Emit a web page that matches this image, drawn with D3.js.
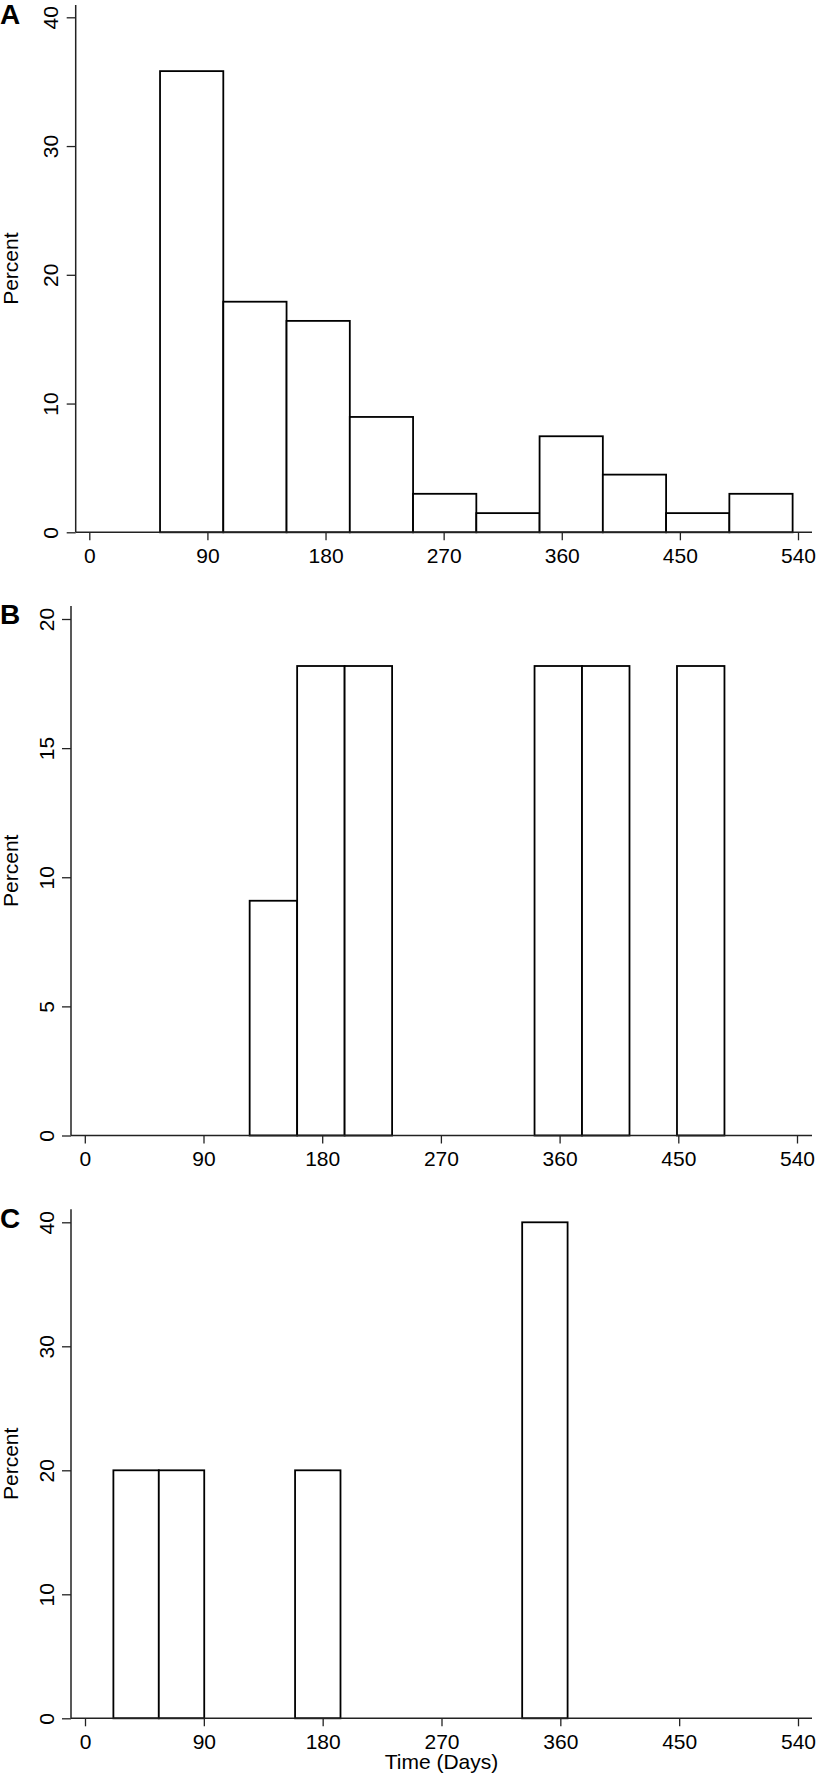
<!DOCTYPE html>
<html>
<head>
<meta charset="utf-8">
<script src="https://cdn.jsdelivr.net/npm/d3@7"></script>
<style>
  body { margin: 0; background: #fff; }
  svg { display: block; font-family: "Liberation Sans", Arial, Helvetica, sans-serif; }
</style>
</head>
<body>
<svg id="chart" width="816" height="1776"></svg>
<script>
// Data (percent per bin, days on x)
const xTicks = [0, 90, 180, 270, 360, 450, 540];
const panelLabels = ['A', 'B', 'C'];
const binStarts = [53.9, 125, 21.5];
const binWidths = [48.2, 36, 34.4];
const percentA = [35.82, 17.91, 16.42, 8.96, 2.99, 1.49, 7.46, 4.48, 1.49, 2.99];
const percentB = [9.09, 18.18, 18.18, 0, 0, 0, 18.18, 18.18, 0, 18.18];
const percentC = [20, 20, 0, 0, 20, 0, 0, 0, 0, 40];
const yTicksA = [0, 10, 20, 30, 40];
const yTicksB = [0, 5, 10, 15, 20];
const yTicksC = [0, 10, 20, 30, 40];
const yTitle = 'Percent';
const xTitle = 'Time (Days)';

// Layout for each panel (pixels)
const layout = [
  { axisX: 75.7, xRange: [89.3, 798], yMax: 40, yRange: [532.3, 17.3], axisTop: 5, letterY: 24 },
  { axisX: 71, xRange: [84.8, 797], yMax: 20, yRange: [1135.5, 619], axisTop: 606, letterY: 624 },
  { axisX: 71, xRange: [85, 798], yMax: 40, yRange: [1718.3, 1222.3], axisTop: 1209.3, letterY: 1228 }
];
const axisRight = 812;
const fontSize = 21;

const svg = d3.select('#chart');
const series = [percentA, percentB, percentC];
const yTickSets = [yTicksA, yTicksB, yTicksC];

series.forEach((values, i) => {
  const L = layout[i];
  const x = d3.scaleLinear().domain([0, 540]).range(L.xRange);
  const y = d3.scaleLinear().domain([0, L.yMax]).range(L.yRange);
  const g = svg.append('g').attr('class', 'panel');

  const bins = values.map((v, k) => ({
    x0: binStarts[i] + k * binWidths[i],
    x1: binStarts[i] + (k + 1) * binWidths[i],
    v
  })).filter(d => d.v > 0);

  // bars
  g.selectAll('rect.bar').data(bins).join('rect')
    .attr('class', 'bar')
    .attr('x', d => x(d.x0))
    .attr('width', d => x(d.x1) - x(d.x0))
    .attr('y', d => y(d.v))
    .attr('height', d => y(0) - y(d.v))
    .attr('fill', '#fff')
    .attr('stroke', '#000')
    .attr('stroke-width', 1.8);

  // x axis
  const xAxis = g.append('g')
    .attr('transform', `translate(0,${y(0)})`)
    .call(d3.axisBottom(x).tickValues(xTicks).tickSize(8).tickFormat(d3.format('d')));
  xAxis.attr('font-family', null).attr('font-size', fontSize);
  xAxis.select('.domain').remove();
  xAxis.selectAll('.tick line').attr('stroke', '#222').attr('stroke-width', 1.3);
  xAxis.selectAll('.tick text').attr('dy', null).attr('y', 30.5);
  g.append('line')
    .attr('x1', L.axisX).attr('x2', axisRight)
    .attr('y1', y(0)).attr('y2', y(0))
    .attr('stroke', '#222').attr('stroke-width', 1.5);

  // y axis
  const yAxis = g.append('g')
    .attr('transform', `translate(${L.axisX},0)`)
    .call(d3.axisLeft(y).tickValues(yTickSets[i]).tickSize(9).tickFormat(d3.format('d')));
  yAxis.attr('font-family', null).attr('font-size', fontSize);
  yAxis.select('.domain').remove();
  yAxis.selectAll('.tick line').attr('stroke', '#222').attr('stroke-width', 1.3);
  yAxis.selectAll('.tick text')
    .attr('x', null).attr('dy', null)
    .attr('text-anchor', 'middle')
    .attr('transform', 'translate(-17.5,0) rotate(-90)');
  g.append('line')
    .attr('x1', L.axisX).attr('x2', L.axisX)
    .attr('y1', L.axisTop).attr('y2', y(0))
    .attr('stroke', '#222').attr('stroke-width', 1.5);

  // y title
  g.append('text')
    .attr('transform', `translate(18,${(L.axisTop + y(0)) / 2}) rotate(-90)`)
    .attr('text-anchor', 'middle')
    .attr('font-size', fontSize)
    .text(yTitle);

  // panel letter
  g.append('text')
    .attr('x', 0).attr('y', L.letterY)
    .attr('font-size', 28).attr('font-weight', 'bold')
    .text(panelLabels[i]);

  if (i === series.length - 1) {
    g.append('text')
      .attr('x', (L.axisX + axisRight) / 2).attr('y', 1769)
      .attr('text-anchor', 'middle')
      .attr('font-size', fontSize)
      .text(xTitle);
  }
});
</script>
</body>
</html>
